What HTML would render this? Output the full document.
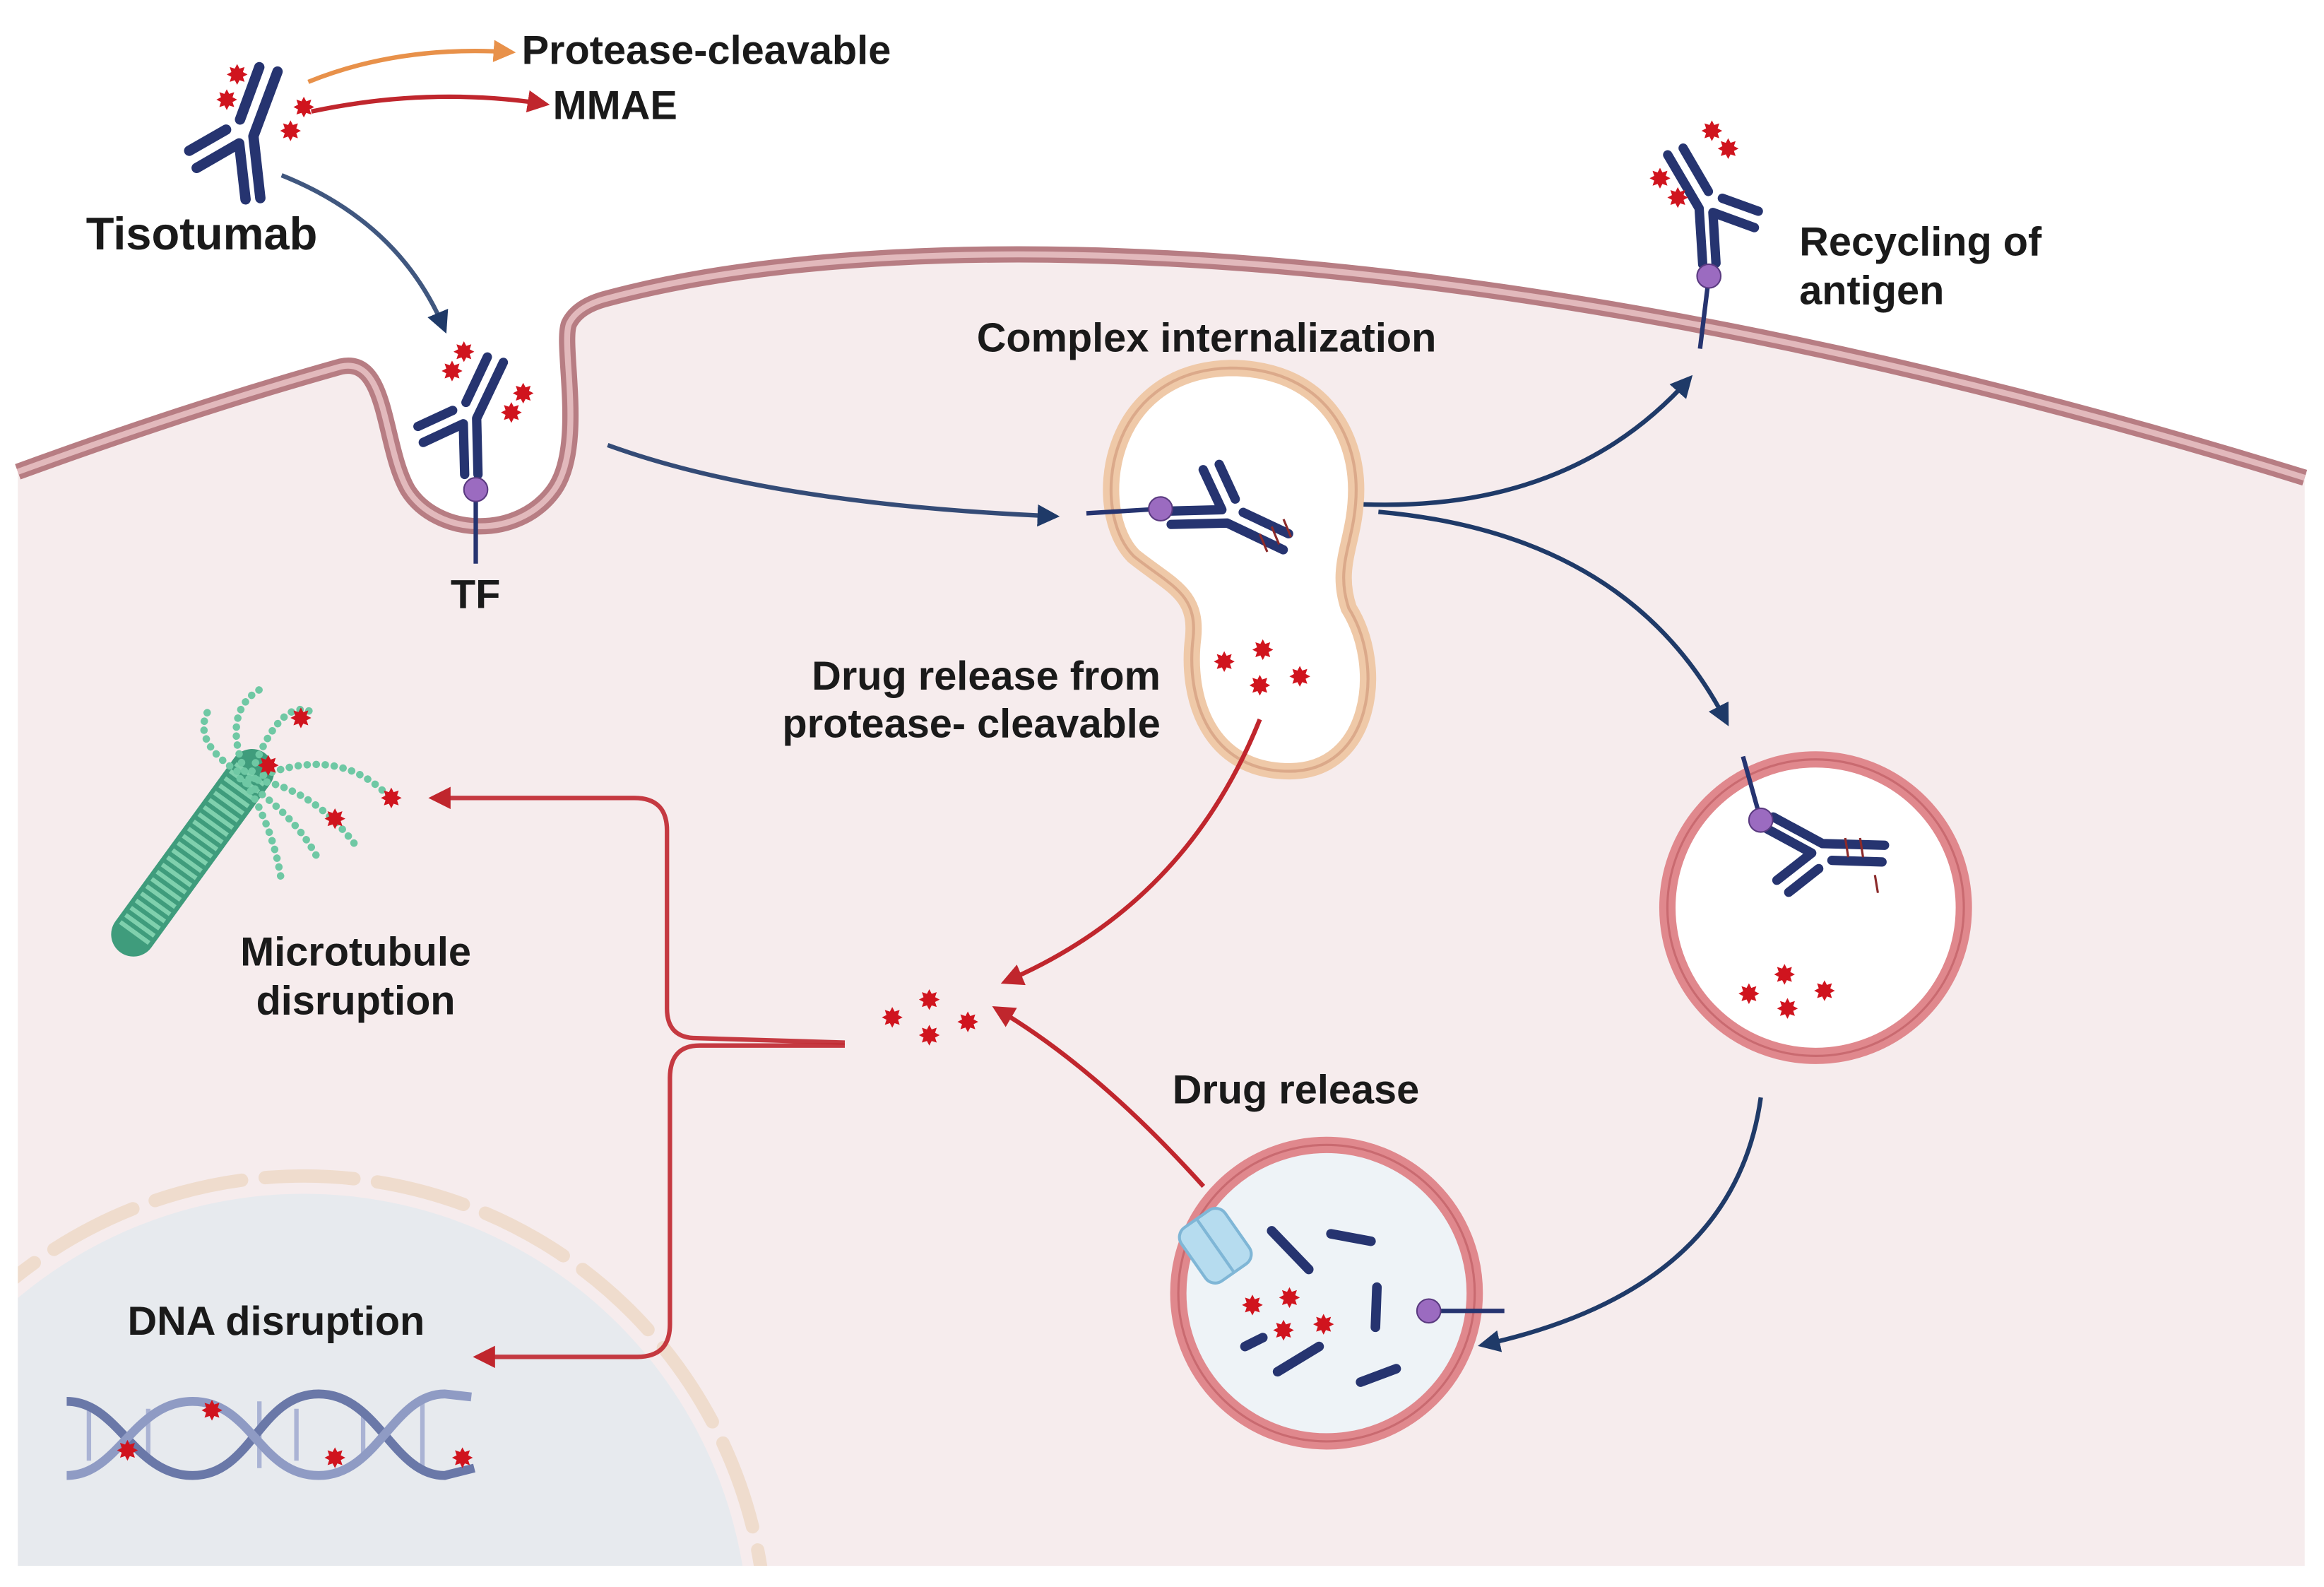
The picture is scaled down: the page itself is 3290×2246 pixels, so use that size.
<!DOCTYPE html>
<html><head><meta charset="utf-8"><style>
html,body{margin:0;padding:0;background:#fff;width:3290px;height:2246px;overflow:hidden}
svg{display:block}
text{font-family:"Liberation Sans",sans-serif;font-weight:700;fill:#1a1a1a;font-size:27.5px}
</style></head><body>
<svg width="3290" height="2246" viewBox="0 0 1568 1070" xmlns="http://www.w3.org/2000/svg">
<defs>
<marker id="an" viewBox="0 0 10 10" refX="8" refY="5" markerWidth="5" markerHeight="5" orient="auto"><path d="M0,0L10,5L0,10z" fill="#1f3a68"/></marker>
<marker id="ar" viewBox="0 0 10 10" refX="8" refY="5" markerWidth="5" markerHeight="5" orient="auto"><path d="M0,0L10,5L0,10z" fill="#c0262d"/></marker>
<marker id="ao" viewBox="0 0 10 10" refX="8" refY="5" markerWidth="5" markerHeight="5" orient="auto"><path d="M0,0L10,5L0,10z" fill="#e8914a"/></marker>
<g id="ab" stroke="#263470" stroke-width="7" stroke-linecap="round" stroke-linejoin="round" fill="none">
<polyline points="-5,42 -6,4 -36,18"/>
<polyline points="5,42 4,0 24,-42"/>
<line x1="-14" y1="-6" x2="-40" y2="6"/>
<line x1="-4" y1="-12" x2="12" y2="-46"/>
</g>
<polygon id="st" fill="#d0141e" points="0,-7 1.6,-3.9 5,-5 3.9,-1.6 7,0 3.9,1.6 5,5 1.6,3.9 0,7 -1.6,3.9 -5,5 -3.9,1.6 -7,0 -3.9,-1.6 -5,-5 -1.6,-3.9"/>
<clipPath id="cell"><path id="cp" d="M12,318 Q130,275 230,247 C262,240 258,300 275,330 C295,362 350,364 374,330 C395,300 378,232 384,218 Q390,206 410,201 C600,150 1000,150 1555,322 L1555,1056 L12,1056Z"/></clipPath>
</defs>
<path d="M12,318 Q130,275 230,247 C262,240 258,300 275,330 C295,362 350,364 374,330 C395,300 378,232 384,218 Q390,206 410,201 C600,150 1000,150 1555,322 L1555,1056 L12,1056Z" fill="#f6eced"/>
<g clip-path="url(#cell)">
<circle cx="205" cy="1105" r="300" fill="#e7eaee"/>
<circle cx="205" cy="1105" r="312" fill="none" stroke="#efdccd" stroke-width="9" stroke-dasharray="60 16" stroke-linecap="round"/>
</g>
<path d="M12,318 Q130,275 230,247 C262,240 258,300 275,330 C295,362 350,364 374,330 C395,300 378,232 384,218 Q390,206 410,201 C600,150 1000,150 1555,322" fill="none" stroke="#b77d83" stroke-width="11"/>
<path d="M12,318 Q130,275 230,247 C262,240 258,300 275,330 C295,362 350,364 374,330 C395,300 378,232 384,218 Q390,206 410,201 C600,150 1000,150 1555,322" fill="none" stroke="#e2b9bc" stroke-width="4"/>

<path d="M830,248 C890,248 915,290 915,330 C915,365 900,380 910,410 C935,450 925,520 870,520 C815,520 800,470 805,430 C808,400 790,395 765,375 C735,345 745,250 830,248Z" fill="#fff" stroke="#efc9a8" stroke-width="11"/>
<path d="M830,248 C890,248 915,290 915,330 C915,365 900,380 910,410 C935,450 925,520 870,520 C815,520 800,470 805,430 C808,400 790,395 765,375 C735,345 745,250 830,248Z" fill="none" stroke="#dba98a" stroke-width="2"/>
<circle cx="1225" cy="612" r="100" fill="#fff" stroke="#e0888d" stroke-width="11"/>
<circle cx="1225" cy="612" r="100" fill="none" stroke="#c96a70" stroke-width="1.5"/>
<circle cx="895" cy="872" r="100" fill="#eef3f7" stroke="#e0888d" stroke-width="11"/>
<circle cx="895" cy="872" r="100" fill="none" stroke="#c96a70" stroke-width="1.5"/>

<path d="M208,55 Q270,30 345,35" fill="none" stroke="#e8914a" stroke-width="3" marker-end="url(#ao)"/>
<path d="M210,75 Q290,58 368,70" fill="none" stroke="#c0262d" stroke-width="3" marker-end="url(#ar)"/>
<g fill="none" stroke="#1f3a68" stroke-width="3">
<path d="M190,118 Q270,150 300,222" marker-end="url(#an)" stroke-opacity="0.85"/>
<path d="M410,300 Q520,340 712,348" marker-end="url(#an)" stroke-opacity="0.9"/>
<path d="M920,340 Q1060,345 1140,255" marker-end="url(#an)"/>
<path d="M930,345 Q1100,360 1165,487" marker-end="url(#an)"/>
<path d="M1188,740 Q1170,870 1000,907" marker-end="url(#an)"/>
</g>
<g fill="none" stroke="#c0262d" stroke-width="3">
<path d="M850,485 Q800,610 678,662" marker-end="url(#ar)"/>
<path d="M812,800 Q740,720 672,680" marker-end="url(#ar)"/>
<path d="M570,703 L470,700 Q450,700 450,680 L450,560 Q450,538 428,538 L292,538" marker-end="url(#ar)" stroke-opacity="0.9"/>
<path d="M570,705 L472,705 Q452,705 452,727 L452,893 Q452,915 430,915 L322,915" marker-end="url(#ar)" stroke-opacity="0.9"/>
</g>

<use href="#ab" transform="translate(167,92) rotate(-5)"/>
<use href="#st" x="160" y="50"/><use href="#st" x="153" y="67"/><use href="#st" x="205" y="72"/><use href="#st" x="196" y="88"/>
<use href="#ab" transform="translate(318,282) scale(0.9)"/>
<line x1="321" y1="330" x2="321" y2="380" stroke="#263470" stroke-width="3"/><circle cx="321" cy="330" r="8" fill="#9b6bc0" stroke="#5a3a80"/>
<use href="#st" x="313" y="237"/><use href="#st" x="305" y="250"/><use href="#st" x="353" y="265"/><use href="#st" x="345" y="278"/>
<use href="#ab" transform="translate(1150,140) rotate(-5) scale(-0.9,0.9)"/>
<line x1="1153" y1="186" x2="1147" y2="235" stroke="#263470" stroke-width="3"/><circle cx="1153" cy="186" r="8" fill="#9b6bc0" stroke="#5a3a80"/>
<use href="#st" x="1155" y="88"/><use href="#st" x="1166" y="100"/><use href="#st" x="1120" y="120"/><use href="#st" x="1132" y="133"/>
<use href="#ab" transform="translate(828,349) rotate(90) scale(0.9)"/>
<line x1="733" y1="346" x2="783" y2="343" stroke="#263470" stroke-width="3"/><circle cx="783" cy="343" r="8" fill="#9b6bc0" stroke="#5a3a80"/>
<g stroke="#8b2a2a" stroke-width="1.5"><line x1="850" y1="360" x2="855" y2="372"/><line x1="858" y1="355" x2="863" y2="367"/><line x1="866" y1="350" x2="871" y2="362"/></g>
<use href="#ab" transform="translate(1228,572) rotate(117) scale(-0.9,0.9)"/>
<line x1="1176" y1="510" x2="1188" y2="553" stroke="#263470" stroke-width="3"/><circle cx="1188" cy="553" r="8" fill="#9b6bc0" stroke="#5a3a80"/>
<g stroke="#8b2a2a" stroke-width="1.5"><line x1="1245" y1="565" x2="1247" y2="578"/><line x1="1255" y1="565" x2="1257" y2="578"/><line x1="1265" y1="590" x2="1267" y2="602"/></g>

<use href="#st" x="826" y="446"/><use href="#st" x="852" y="438"/><use href="#st" x="850" y="462"/><use href="#st" x="877" y="456"/>
<use href="#st" x="1180" y="670"/><use href="#st" x="1204" y="657"/><use href="#st" x="1206" y="680"/><use href="#st" x="1231" y="668"/>
<use href="#st" x="602" y="686"/><use href="#st" x="627" y="674"/><use href="#st" x="627" y="698"/><use href="#st" x="653" y="689"/>

<g stroke="#263470" stroke-width="6.5" stroke-linecap="round">
<line x1="858" y1="830" x2="883" y2="856"/><line x1="898" y1="832" x2="925" y2="837"/><line x1="929" y1="868" x2="928" y2="895"/>
<line x1="840" y1="908" x2="852" y2="902"/><line x1="862" y1="925" x2="890" y2="908"/><line x1="918" y1="932" x2="942" y2="923"/>
</g>
<line x1="964" y1="884" x2="1015" y2="884" stroke="#263470" stroke-width="3"/><circle cx="964" cy="884" r="8" fill="#9b6bc0" stroke="#5a3a80"/>
<use href="#st" x="845" y="880"/><use href="#st" x="870" y="875"/><use href="#st" x="866" y="897"/><use href="#st" x="893" y="893"/>
<g transform="translate(820,840) rotate(-35)"><rect x="-18" y="-22" width="36" height="44" rx="8" fill="#b6dcef" stroke="#7fb6d6" stroke-width="2"/><line x1="0" y1="-22" x2="0" y2="22" stroke="#7fb6d6" stroke-width="2"/></g>

<line x1="90" y1="630" x2="170" y2="520" stroke="#3f9c7c" stroke-width="30" stroke-linecap="round"/>
<line x1="90" y1="630" x2="170" y2="520" stroke="#7fd0ad" stroke-width="24" stroke-dasharray="3 3"/>
<g fill="none" stroke="#6fc8a4" stroke-width="5" stroke-dasharray="0.1 6" stroke-linecap="round">
<path d="M165,520 Q150,480 175,465"/><path d="M170,520 Q190,470 210,480"/><path d="M172,525 Q230,500 265,540"/><path d="M168,525 Q210,530 240,570"/><path d="M166,528 Q185,560 190,595"/><path d="M160,520 Q130,500 140,480"/><path d="M162,525 Q200,550 215,580"/>
</g>
<use href="#st" x="203" y="484"/><use href="#st" x="181" y="516"/><use href="#st" x="226" y="552"/><use href="#st" x="264" y="538"/>

<g fill="none" stroke-width="6">
<g stroke="#aab3d4" stroke-width="3"><line x1="60" y1="950" x2="60" y2="985"/><line x1="100" y1="950" x2="100" y2="985"/><line x1="175" y1="945" x2="175" y2="990"/><line x1="200" y1="950" x2="200" y2="985"/><line x1="245" y1="955" x2="245" y2="985"/><line x1="285" y1="945" x2="285" y2="990"/></g>
<path d="M45,945 C80,945 90,995 130,995 C170,995 175,940 215,940 C255,940 265,995 300,995 L320,990" stroke="#6a78a8"/>
<path d="M45,995 C80,995 90,945 130,945 C170,945 175,995 215,995 C255,995 265,940 300,940 L318,942" stroke="#8f9bc4"/>
</g>
<use href="#st" x="86" y="978"/><use href="#st" x="143" y="951"/><use href="#st" x="226" y="983"/><use href="#st" x="312" y="983"/>

<text x="352" y="43">Protease-cleavable</text>
<text x="373" y="80">MMAE</text>
<text x="58" y="168" style="font-size:31px">Tisotumab</text>
<text x="304" y="410">TF</text>
<text x="659" y="237">Complex internalization</text>
<text x="1214" y="172">Recycling of</text>
<text x="1214" y="205">antigen</text>
<text x="783" y="465" text-anchor="end">Drug release from</text>
<text x="783" y="497" text-anchor="end">protease- cleavable</text>
<text x="240" y="651" text-anchor="middle">Microtubule</text>
<text x="240" y="684" text-anchor="middle">disruption</text>
<text x="791" y="744">Drug release</text>
<text x="86" y="900">DNA disruption</text>
</svg>
</body></html>
